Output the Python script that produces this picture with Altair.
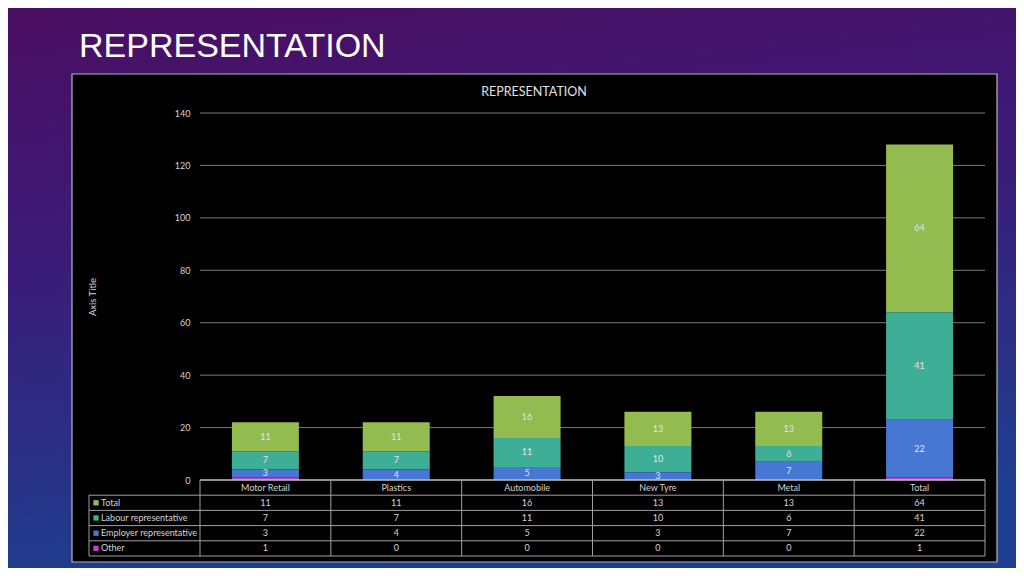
import altair as alt
import pandas as pd

categories = ["Motor Retail", "Plastics", "Automobile", "New Tyre", "Metal", "Total"]
series = ["Total", "Labour representative", "Employer representative", "Other"]
total_vals = [11, 11, 16, 13, 13, 64]
labour_vals = [7, 7, 11, 10, 6, 41]
employer_vals = [3, 4, 5, 3, 7, 22]
other_vals = [1, 0, 0, 0, 0, 1]
y_ticks = [0, 20, 40, 60, 80, 100, 120, 140]
colors = ["#92bb50", "#3fae96", "#4677d2", "#c23fc8"]

W, H = 785, 367
PAD_L, PAD_T = 192, 105

values = {"Total": total_vals, "Labour representative": labour_vals,
          "Employer representative": employer_vals, "Other": other_vals}
stack_order = {"Other": 0, "Employer representative": 1, "Labour representative": 2, "Total": 3}
rows = []
for s in series:
    for c, v in zip(categories, values[s]):
        rows.append({"cat": c, "series": s, "value": v, "order": stack_order[s], "txt": str(v)})
df = pd.DataFrame(rows)
cat_df = pd.DataFrame({"cat": categories})
series_df = pd.DataFrame({"series": series})
tick_df = pd.DataFrame({"t": y_ticks})
one = pd.DataFrame({"a": [0]})

FONT = "Lato"
TXT = "#d4d4d4"
xscale = alt.Scale(domain=categories, paddingInner=0, paddingOuter=0)
yscale = alt.Scale(domain=[0, 140], nice=False, zero=True)
row_domain = ["__header__"] + series
rowscale = alt.Scale(type="band", domain=row_domain, range=[367, 443], paddingInner=0, paddingOuter=0)
cscale = alt.Scale(domain=series, range=colors)

# slide background gradient
bg = alt.Chart(one).mark_rect(
    color=alt.LinearGradient(gradient="linear", x1=0, y1=0, x2=0.2, y2=1,
                             stops=[alt.GradientStop(color="#4a0e62", offset=0),
                                    alt.GradientStop(color="#3a1c78", offset=0.45),
                                    alt.GradientStop(color="#1e3e8e", offset=1)])
).encode(x=alt.value(-PAD_L), x2=alt.value(1008 - PAD_L),
         y=alt.value(-PAD_T), y2=alt.value(560 - PAD_T))

# black chart box
box = alt.Chart(one).mark_rect(color="black", stroke="#b4b4c4", strokeWidth=1.2).encode(
    x=alt.value(-128), x2=alt.value(797), y=alt.value(-39), y2=alt.value(449))

slide_title = alt.Chart(one).mark_text(
    text="REPRESENTATION", font="Liberation Sans", fontSize=34, color="white",
    align="left", baseline="alphabetic").encode(x=alt.value(-121), y=alt.value(-56))

chart_title = alt.Chart(one).mark_text(
    text="REPRESENTATION", font=FONT, fontSize=12.5, color="#e0e0e0",
    align="center", baseline="middle").encode(x=alt.value(334), y=alt.value(-21))

axis_title = alt.Chart(one).mark_text(
    text="Axis Title", font=FONT, fontSize=9.5, color=TXT, angle=270,
    align="center", baseline="middle").encode(x=alt.value(-107), y=alt.value(184))

grid = alt.Chart(tick_df).mark_rule(color="#7a7a7a", strokeWidth=1).encode(
    y=alt.Y("t:Q", scale=yscale,
            axis=alt.Axis(values=y_ticks, grid=False, domain=False, ticks=False,
                          labelColor=TXT, labelFont=FONT, labelFontSize=9,
                          labelPadding=10, title=None, zindex=2)),
    x=alt.value(0), x2=alt.value(W))

stacked = alt.Chart(df).transform_stack(
    stack="value", groupby=["cat"], as_=["v0", "v1"],
    sort=[alt.SortField("order", "ascending")])

bars = stacked.mark_bar(size=67).encode(
    x=alt.X("cat:N", scale=xscale, axis=None),
    y=alt.Y("v0:Q", scale=yscale, axis=None),
    y2="v1:Q",
    color=alt.Color("series:N", scale=cscale, legend=None))

labels = stacked.transform_filter("datum.value >= 2").transform_calculate(
    mid="(datum.v0 + datum.v1) / 2").mark_text(
    font=FONT, fontSize=9, color="#e4e4e4", baseline="middle").encode(
    x=alt.X("cat:N", scale=xscale, axis=None),
    y=alt.Y("mid:Q", scale=yscale, axis=None),
    text="txt:N")

LINE = "#a0a0a0"
SW = 1
# table horizontal lines
hlines_rows = alt.Chart(series_df).mark_rule(color=LINE, strokeWidth=SW).encode(
    y=alt.Y("series:N", scale=rowscale, axis=None, bandPosition=0),
    x=alt.value(-111), x2=alt.value(W))
hline_top = alt.Chart(one).mark_rule(color="#e6e6e6", strokeWidth=1.2).encode(
    y=alt.value(367), x=alt.value(0), x2=alt.value(W))
hline_bottom = alt.Chart(one).mark_rule(color=LINE, strokeWidth=SW).encode(
    y=alt.value(443), x=alt.value(-111), x2=alt.value(W))
vlines = alt.Chart(cat_df).mark_rule(color=LINE, strokeWidth=SW).encode(
    x=alt.X("cat:N", scale=xscale, axis=None, bandPosition=0),
    y=alt.value(367), y2=alt.value(443))
vline_end = alt.Chart(one).mark_rule(color=LINE, strokeWidth=SW).encode(
    x=alt.value(W), y=alt.value(367), y2=alt.value(443))
vline_left = alt.Chart(one).mark_rule(color=LINE, strokeWidth=SW).encode(
    x=alt.value(-111), y=alt.value(382), y2=alt.value(443))

header = alt.Chart(cat_df).transform_calculate(row="'__header__'").mark_text(
    font=FONT, fontSize=9, color=TXT, baseline="middle").encode(
    x=alt.X("cat:N", scale=xscale, axis=None),
    y=alt.Y("row:N", scale=rowscale, axis=None),
    text="cat:N")

cells = alt.Chart(df).mark_text(
    font=FONT, fontSize=9, color=TXT, baseline="middle").encode(
    x=alt.X("cat:N", scale=xscale, axis=None),
    y=alt.Y("series:N", scale=rowscale, axis=None),
    text="txt:N")

legend_sq = alt.Chart(series_df).mark_square(size=28, opacity=1).encode(
    x=alt.value(-104),
    y=alt.Y("series:N", scale=rowscale, axis=None),
    color=alt.Color("series:N", scale=cscale, legend=None))

legend_txt = alt.Chart(series_df).mark_text(
    font=FONT, fontSize=9, color=TXT, align="left", baseline="middle").encode(
    x=alt.value(-99),
    y=alt.Y("series:N", scale=rowscale, axis=None),
    text="series:N")

chart = alt.layer(
    bg, box, slide_title, chart_title, axis_title, grid, bars, labels,
    hlines_rows, hline_top, hline_bottom, vlines, vline_end, vline_left,
    header, cells, legend_sq, legend_txt
).resolve_scale(y="independent").resolve_axis(y="independent").properties(
    width=W, height=H,
    autosize=alt.AutoSizeParams(type="none"),
    padding={"left": PAD_L, "top": PAD_T, "right": 1008 - PAD_L - W, "bottom": 560 - PAD_T - H},
    background="#1e3e8e"
).configure_view(stroke=None)

chart.save("out.html", embed_options={"renderer": "svg", "actions": False})
